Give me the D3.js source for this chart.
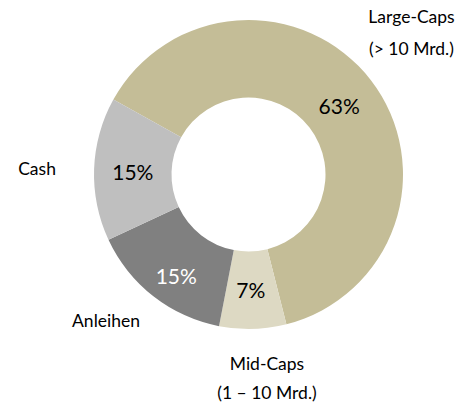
<!DOCTYPE html>
<html>
<head>
<meta charset="utf-8">
<script src="https://cdn.jsdelivr.net/npm/d3@7"></script>
<style>
  html, body { margin: 0; padding: 0; background: #fff; }
  svg text { font-family: Lato, "Open Sans", sans-serif; }
</style>
</head>
<body>
<svg id="chart" width="476" height="406"></svg>
<script>
const categories = ["Large-Caps", "Mid-Caps", "Anleihen", "Cash"];
const subLabels = ["(> 10 Mrd.)", "(1 – 10 Mrd.)", "", ""];
const values = [63, 7, 15, 15];
const colors = ["#c4bd97", "#ddd9c3", "#808080", "#bfbfbf"];
const pctColors = ["#000", "#000", "#fff", "#000"];

const width = 476, height = 406;
const cx = 248.5, cy = 174.5;
const outerR = 154.5, innerR = 77;
const startDeg = -61;

const svg = d3.select("#chart");
const g = svg.append("g").attr("transform", `translate(${cx},${cy})`);

const data = categories.map((c, i) => ({ name: c, sub: subLabels[i], value: values[i], i }));

const pie = d3.pie()
  .value(d => d.value)
  .sort(null)
  .startAngle(startDeg * Math.PI / 180)
  .endAngle((startDeg + 360) * Math.PI / 180);

const arcs = pie(data);
const arc = d3.arc().innerRadius(innerR).outerRadius(outerR);

g.selectAll("path.slice")
  .data(arcs)
  .join("path")
  .attr("class", "slice")
  .attr("d", arc)
  .attr("fill", d => colors[d.data.i]);

// percentage labels (centroid, with small Excel-like nudges)
const pctNudge = [[-1, 2.5], [-1, 0], [-1, 11], [0, 2]];
g.selectAll("text.pct")
  .data(arcs)
  .join("text")
  .attr("class", "pct")
  .attr("transform", d => {
    const [x, y] = arc.centroid(d);
    const n = pctNudge[d.data.i];
    return `translate(${x + n[0]},${y + n[1]})`;
  })
  .attr("text-anchor", "middle")
  .attr("dy", "0.36em")
  .attr("font-size", 21)
  .attr("fill", d => pctColors[d.data.i])
  .text(d => d.data.value + "%");

// outside category labels
const labelArc = d3.arc().innerRadius(210).outerRadius(210);
const catNudge = [[-3.4, -29.2], [12.6, -20.2], [-13.2, -18.8], [-1.6, 2]];
const lineGap = [32, 29, 0, 0];
const lbl = g.selectAll("g.cat")
  .data(arcs)
  .join("g")
  .attr("class", "cat")
  .attr("transform", d => {
    const [x, y] = labelArc.centroid(d);
    const n = catNudge[d.data.i];
    return `translate(${x + n[0]},${y + n[1]})`;
  });

lbl.append("text")
  .attr("text-anchor", "middle")
  .attr("font-size", 17.5)
  .attr("fill", "#000")
  .attr("dy", "0.35em")
  .text(d => d.data.name);

lbl.filter(d => d.data.sub)
  .append("text")
  .attr("text-anchor", "middle")
  .attr("font-size", 17.5)
  .attr("fill", "#000")
  .attr("y", d => lineGap[d.data.i])
  .attr("dy", "0.35em")
  .text(d => d.data.sub);
</script>
</body>
</html>
